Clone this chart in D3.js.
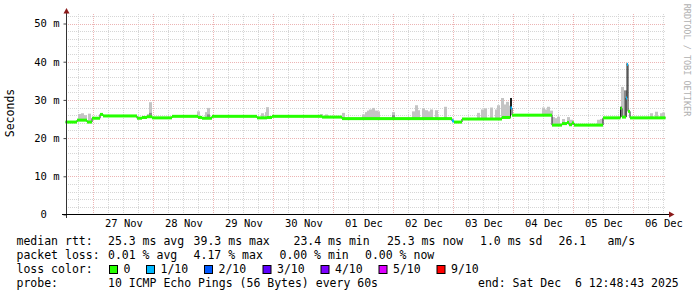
<!DOCTYPE html>
<html>
<head>
<meta charset="utf-8">
<script src="https://cdn.jsdelivr.net/npm/d3@7"></script>
<style>
  body { margin: 0; background: #fff; }
  text { font-family: "DejaVu Sans Mono", monospace; white-space: pre; }
</style>
</head>
<body>
<div id="chart"></div>
<script>

// median rtt as steps: hours since start, value in ms, loss index
var segHour   = [0, 4.6, 8.6, 10.6, 13.8, 15, 28.6, 30.6, 32.6, 34.6, 42.6, 53, 54.6, 58.6, 76.6, 80.6, 82.6,
                 102.6, 110.6, 154.6, 155.4, 158.6, 174.6, 178, 178.6, 194.6, 198.6, 200.6, 201.4, 202.6, 203.4,
                 215, 222, 222.6, 224.2, 224.6, 225, 225.8];
var segMedian = [24.2, 24.7, 24.2, 25.2, 26.2, 25.8, 25.2, 25.4, 25.6, 25.3, 25.7, 25.4, 25.2, 25.7, 25.3, 25.4, 25.7,
                 25.5, 25.1, 24.5, 24.2, 25.0, 25.4, 27.9, 26.0, 23.4, 23.8, 24.1, 23.5, 24.0, 23.4,
                 25.3, 27.8, 25.5, 30.5, 39.3, 27.0, 25.3];
var segLoss   = [0, 0, 0, 0, 0, 0, 0, 0, 0, 0, 0, 0, 0, 0, 0, 0, 0,
                 0, 0, 1, 0, 0, 0, 1, 0, 0, 0, 0, 0, 0, 0,
                 0, 0, 0, 1, 1, 0, 0];
var endHour = 240;

// smoke spikes: hour, top value (ms), shade
var smokeHour  = [5.4, 6.6, 7.8, 9.2, 32.8, 33.8, 33.8, 53, 56.2, 57, 57, 78.5, 80, 80.6, 102, 104, 111,
                  119, 120, 121, 122, 123, 124, 125, 131, 131, 139, 140, 141, 143, 144, 145, 146, 148, 151.6,
                  165, 166.6, 168, 170, 172, 173, 174.5, 175.5, 176.6, 177, 178.2,
                  191, 192, 193, 194, 195, 196, 197, 199, 201, 202, 213, 214,
                  222.6, 222.2, 223.8, 224.6, 234, 236, 238, 239];
var smokeTop   = [26.3, 26.5, 26.0, 26.4, 26.3, 29.4, 26.6, 27.0, 26.8, 27.9, 26.2, 26.5, 26.8, 28.1, 26.3, 26.2, 26.6,
                  26.2, 26.8, 27.2, 27.5, 27.9, 27.2, 27.0, 26.8, 26.0, 27.0, 28.6, 27.3, 27.8, 27.3, 27.0, 27.5, 27.3, 28.2,
                  26.6, 27.5, 27.8, 28.0, 27.5, 28.6, 30.5, 28.8, 29.5, 28.5, 30.5,
                  28.0, 27.5, 28.2, 27.2, 25.5, 25.2, 25.6, 25.0, 25.5, 24.8, 24.8, 25.0,
                  33.4, 28.2, 32.5, 39.5, 26.5, 26.9, 26.5, 26.7];
var smokeShade = [0, 0, 0, 0, 0, 0, 1, 0, 0, 0, 1, 0, 0, 0, 0, 0, 0,
                  0, 0, 0, 0, 0, 0, 0, 0, 1, 0, 0, 0, 0, 0, 0, 0, 0, 0,
                  0, 0, 0, 0, 0, 0, 0, 0, 0, 0, 2,
                  0, 0, 0, 0, 0, 0, 0, 0, 0, 0, 0, 0,
                  0, 2, 1, 2, 0, 0, 0, 0];

var yTicks = [0, 10, 20, 30, 40, 50];
var yTickLabels = ["0  ", "10 m", "20 m", "30 m", "40 m", "50 m"];
var lossLabels = ["0", "1/10", "2/10", "3/10", "4/10", "5/10", "9/10"];
var lossColors = ["#26ff00", "#00b8ff", "#0059ff", "#5e00ff", "#7e00ff", "#dd00ff", "#ff0000"];
var shadeColors = ["#c4c4c4", "#8c8c8c", "#1e1e1e"];

var W = 697, H = 297;
var t0 = new Date(2025, 10, 26, 12, 48, 43);
var t1 = new Date(2025, 11, 6, 12, 48, 43);
function hourToDate(h) { return new Date(t0.getTime() + h * 3600e3); }

var x = d3.scaleTime().domain([t0, t1]).range([65.5, 665.5]);
var y = d3.scaleLinear().domain([0, 50]).range([214.5, 23.5]);
var plotTop = 14, plotLeft = 66, plotRight = 666;

var svg = d3.select("#chart").append("svg")
    .attr("width", W).attr("height", H)
    .style("display", "block");
svg.append("rect").attr("width", W).attr("height", H).attr("fill", "#fff");

// grid
var grid = svg.append("g");
var minorY = d3.range(2, 53, 2).filter(function(v) { return v % 10 !== 0; });
var majorY = [10, 20, 30, 40, 50];
var sixHours = d3.timeHour.every(6).range(t0, t1).filter(function(d) { return d.getHours() !== 0; });
var days = d3.timeDay.range(t0, t1);
var minorCol = "#d6d6d6", majorCol = "#ecb4b4";

grid.selectAll(".hmin").data(minorY).enter().append("line")
    .attr("x1", plotLeft).attr("x2", plotRight)
    .attr("y1", function(d) { return Math.round(y(d)) + 0.5; })
    .attr("y2", function(d) { return Math.round(y(d)) + 0.5; })
    .attr("stroke", minorCol).attr("stroke-dasharray", "1,1");
grid.selectAll(".vmin").data(sixHours).enter().append("line")
    .attr("x1", function(d) { return Math.round(x(d)) + 0.5; })
    .attr("x2", function(d) { return Math.round(x(d)) + 0.5; })
    .attr("y1", plotTop).attr("y2", 214)
    .attr("stroke", minorCol).attr("stroke-dasharray", "1,1");
grid.selectAll(".hmaj").data(majorY).enter().append("line")
    .attr("x1", plotLeft).attr("x2", plotRight)
    .attr("y1", function(d) { return Math.round(y(d)) + 0.5; })
    .attr("y2", function(d) { return Math.round(y(d)) + 0.5; })
    .attr("stroke", majorCol).attr("stroke-dasharray", "1,1");
grid.selectAll(".vmaj").data(days).enter().append("line")
    .attr("x1", function(d) { return Math.round(x(d)) + 0.5; })
    .attr("x2", function(d) { return Math.round(x(d)) + 0.5; })
    .attr("y1", plotTop).attr("y2", 214)
    .attr("stroke", majorCol).attr("stroke-dasharray", "1,1");

// median lookup
function medianAt(h) {
  var i = d3.bisectRight(segHour, h) - 1;
  return segMedian[Math.max(0, i)];
}

// smoke
svg.append("g").selectAll("rect")
  .data(smokeHour.map(function(h, i) { return {h: h, top: smokeTop[i], shade: smokeShade[i]}; }))
  .enter().append("rect")
    .attr("x", function(d) { return Math.round(x(hourToDate(d.h))) - 1; })
    .attr("width", function(d) { return d.shade === 2 ? 2 : 3; })
    .attr("y", function(d) { return y(d.top); })
    .attr("height", function(d) { return Math.max(0, y(medianAt(d.h)) - y(d.top)); })
    .attr("fill", function(d) { return shadeColors[d.shade]; });

// black median line
var pts = segHour.map(function(h, i) { return [h, segMedian[i]]; });
pts.push([endHour, segMedian[segMedian.length - 1]]);
svg.append("path")
    .datum(pts)
    .attr("fill", "none")
    .attr("stroke", "#202020")
    .attr("stroke-width", 1)
    .attr("d", d3.line()
      .x(function(d) { return x(hourToDate(d[0])); })
      .y(function(d) { return y(d[1]); })
      .curve(d3.curveStepAfter));

// loss-coloured median band
svg.append("g").selectAll("rect")
  .data(segHour.map(function(h, i) {
    return {h0: h, h1: i < segHour.length - 1 ? segHour[i + 1] : endHour, v: segMedian[i], loss: segLoss[i]};
  }))
  .enter().append("rect")
    .attr("x", function(d) { return x(hourToDate(d.h0)); })
    .attr("width", function(d) { return x(hourToDate(d.h1)) - x(hourToDate(d.h0)); })
    .attr("y", function(d) { return y(d.v) - 1.5; })
    .attr("height", 3)
    .attr("fill", function(d) { return lossColors[d.loss]; });

// axes
var yAxis = svg.append("g")
    .attr("transform", "translate(66.5,0)")
    .call(d3.axisLeft(y).tickValues(yTicks)
      .tickFormat(function(d, i) { return yTickLabels[i]; })
      .tickSize(3).tickPadding(4));
yAxis.select(".domain").remove();
yAxis.selectAll("line").attr("stroke", "#444");
yAxis.selectAll("text").attr("font-family", "DejaVu Sans Mono").attr("font-size", 10.5).attr("fill", "#000");

var noons = days.map(function(d) { return d3.timeHour.offset(d, 12); })
  .filter(function(d) { return d > t0 && d < t1; });
var xAxis = svg.append("g")
    .attr("transform", "translate(0,214.5)")
    .call(d3.axisBottom(x).tickValues(noons)
      .tickFormat(d3.timeFormat("%d %b"))
      .tickSize(0).tickPadding(5));
xAxis.select(".domain").remove();
xAxis.selectAll("text").attr("font-family", "DejaVu Sans Mono").attr("font-size", 10.5).attr("fill", "#000");

svg.append("line").attr("x1", 66.5).attr("x2", 66.5).attr("y1", 218).attr("y2", 11)
    .attr("stroke", "#333");
svg.append("line").attr("x1", 62).attr("x2", 671).attr("y1", 214.5).attr("y2", 214.5)
    .attr("stroke", "#000");
svg.append("path").attr("d", "M63.5,13.5L69.5,13.5L66.5,8Z").attr("fill", "#8b1a1a");
svg.append("path").attr("d", "M669,211.5L669,217.5L674.5,214.5Z").attr("fill", "#8b1a1a");

// unit label
svg.append("text")
    .attr("transform", "translate(14,113) rotate(-90)")
    .attr("text-anchor", "middle")
    .attr("font-size", 11.5)
    .text("Seconds");

// watermark
svg.append("text")
    .attr("transform", "translate(684,60) rotate(90)")
    .attr("text-anchor", "middle")
    .attr("font-size", 8.5)
    .attr("fill", "#b0b0b0")
    .text("RRDTOOL / TOBI OETIKER");

// legend
var leg = svg.append("g").attr("font-size", 11.5).attr("fill", "#000");
var rows = [
  [[16.5, "median rtt:"], [108, "25.3 ms avg"], [193.6, "39.3 ms max"], [293.5, "23.4 ms min"],
   [387, "25.3 ms now"], [480, "1.0 ms sd"], [558.5, "26.1"], [607.5, "am/s"]],
  [[16.5, "packet loss:"], [108, "0.01 % avg"], [193.6, "4.17 % max"], [279.5, "0.00 % min"], [365, "0.00 % now"]],
  [[16.5, "loss color:"]],
  [[16.5, "probe:"], [108, "10 ICMP Echo Pings (56 Bytes) every 60s"], [478, "end: Sat Dec  6 12:48:43 2025"]]
];
var rowBase = [245, 259, 273, 287];
rows.forEach(function(r, i) {
  r.forEach(function(p) {
    leg.append("text").attr("x", p[0]).attr("y", rowBase[i]).text(p[1]);
  });
});
var boxX = [109, 146, 204, 262.5, 320.5, 378.5, 436.5];
lossLabels.forEach(function(l, i) {
  leg.append("rect").attr("x", boxX[i] + 0.5).attr("y", 265.5).attr("width", 8).attr("height", 8)
    .attr("fill", lossColors[i]).attr("stroke", "#000").attr("stroke-width", 1);
  leg.append("text").attr("x", boxX[i] + 14.5).attr("y", rowBase[2]).text(l);
});
</script>
</body>
</html>
